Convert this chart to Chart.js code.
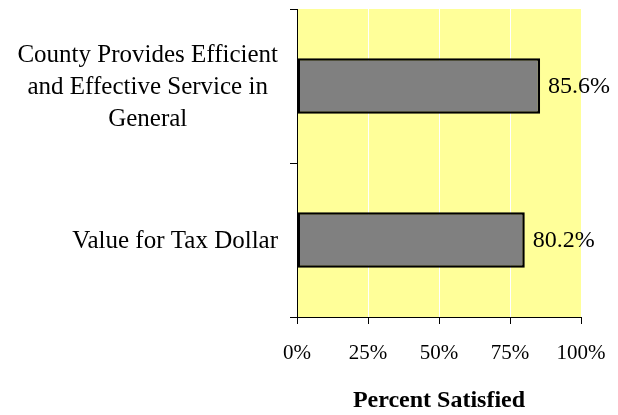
<!DOCTYPE html>
<html>
<head>
<meta charset="utf-8">
<title>Percent Satisfied</title>
<script src="https://cdn.jsdelivr.net/npm/chart.js@4/dist/chart.umd.min.js"></script>
<style>
    html, body {
        margin: 0;
        padding: 0;
        background: #ffffff;
    }
    #wrap {
        width: 618px;
        height: 415px;
    }
</style>
</head>
<body>
<div id="wrap">
    <canvas id="satisfactionChart" width="618" height="415"></canvas>
</div>
<script>

/*
============================================================
Data
============================================================
*/

const categories = [
    ["County Provides Efficient", "and Effective Service in", "General"],
    ["Value for Tax Dollar"]
];

const percentSatisfied = [85.6, 80.2];

const tickValues = [0, 25, 50, 75, 100];

const axisTitle = "Percent Satisfied";

const serif = "'Liberation Serif', 'Times New Roman', serif";

/*
============================================================
Plugins
============================================================
*/

// yellow plot area
const plotBackground = {
    id: "plotBackground",
    beforeDraw(chart) {
        const { ctx, chartArea } = chart;
        ctx.save();
        ctx.fillStyle = "#ffff99";
        ctx.fillRect(
            chartArea.left,
            chartArea.top,
            chartArea.right - chartArea.left,
            chartArea.bottom - chartArea.top
        );
        ctx.restore();
    }
};

// category labels: block right-aligned, lines centred inside block
const categoryLabels = {
    id: "categoryLabels",
    afterDraw(chart) {
        const { ctx } = chart;
        const yScale = chart.scales.y;
        const rightEdge = yScale.right - 19;
        const lineHeight = 32;

        ctx.save();
        ctx.font = "25px " + serif;
        ctx.fillStyle = "#000000";
        ctx.textAlign = "center";
        ctx.textBaseline = "middle";

        categories.forEach((lines, i) => {
            const widest = Math.max(...lines.map(l => ctx.measureText(l).width));
            const cx = rightEdge - widest / 2;
            const cy = yScale.getPixelForValue(i) + 1;
            const first = cy - (lines.length - 1) / 2 * lineHeight;
            lines.forEach((line, j) => {
                ctx.fillText(line, cx, first + j * lineHeight);
            });
        });

        ctx.restore();
    }
};

// value labels at bar ends
const valueLabels = {
    id: "valueLabels",
    afterDatasetsDraw(chart) {
        const { ctx } = chart;
        const meta = chart.getDatasetMeta(0);

        ctx.save();
        ctx.font = "24px " + serif;
        ctx.fillStyle = "#000000";
        ctx.textAlign = "left";
        ctx.textBaseline = "middle";

        meta.data.forEach((bar, i) => {
            ctx.fillText(
                percentSatisfied[i].toFixed(1) + "%",
                bar.x + 8,
                bar.y + 1
            );
        });

        ctx.restore();
    }
};

/*
============================================================
Chart
============================================================
*/

new Chart(
    document.getElementById("satisfactionChart"),
    {
        type: "bar",
        data: {
            labels: categories,
            datasets: [
                {
                    data: percentSatisfied,
                    backgroundColor: "#808080",
                    borderColor: "#000000",
                    borderWidth: 2.5,
                    borderSkipped: false,
                    categoryPercentage: 1,
                    barPercentage: 0.36
                }
            ]
        },
        options: {
            indexAxis: "y",
            responsive: false,
            animation: false,
            events: [],
            layout: {
                padding: { top: 9, right: 37, bottom: 0, left: 0 }
            },
            plugins: {
                legend: { display: false },
                tooltip: { enabled: false }
            },
            scales: {
                x: {
                    min: 0,
                    max: 100,
                    afterBuildTicks(scale) {
                        scale.ticks = tickValues.map(v => ({ value: v }));
                    },
                    afterFit(scale) {
                        scale.height = 98;
                        // let the layout padding alone decide the right edge
                        scale.paddingLeft = 0;
                        scale.paddingRight = 0;
                    },
                    grid: {
                        color: ctx => (ctx.tick && ctx.tick.value === 0) ? "rgba(0,0,0,0)" : "#ffffff",
                        lineWidth: 1,
                        tickColor: "#000000",
                        tickLength: 7
                    },
                    border: {
                        display: true,
                        color: "#000000",
                        width: 1
                    },
                    ticks: {
                        color: "#000000",
                        padding: 17,
                        maxRotation: 0,
                        font: { family: serif, size: 21 },
                        callback: value => value + "%"
                    },
                    title: {
                        display: true,
                        text: axisTitle,
                        color: "#000000",
                        padding: { top: 0, bottom: 0 },
                        font: { family: serif, size: 24, weight: "bold" }
                    }
                },
                y: {
                    afterFit(scale) {
                        scale.width = 297;
                    },
                    grid: {
                        offset: true,
                        drawOnChartArea: false,
                        color: "#000000",
                        tickColor: "#000000",
                        tickLength: 7
                    },
                    border: {
                        display: true,
                        color: "#000000",
                        width: 1
                    },
                    ticks: {
                        display: false
                    }
                }
            }
        },
        plugins: [plotBackground, categoryLabels, valueLabels]
    }
);

</script>
</body>
</html>
